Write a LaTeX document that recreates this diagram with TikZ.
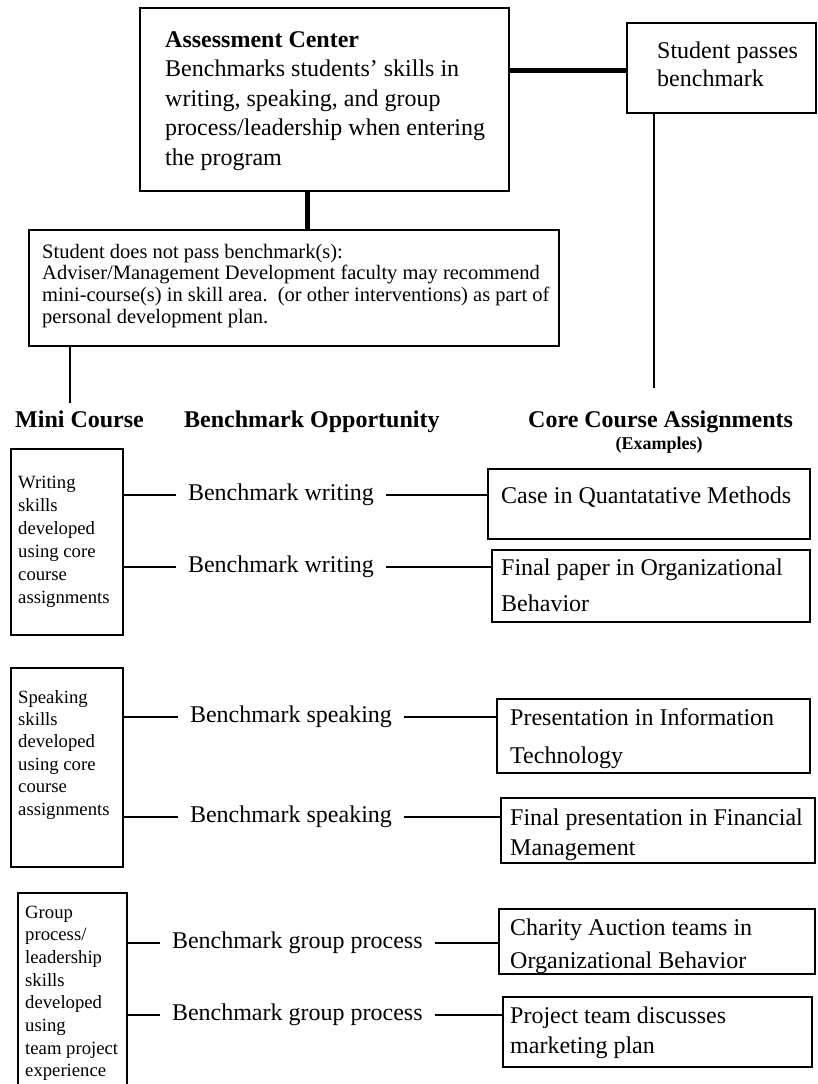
\documentclass[tikz,border=0pt]{standalone}
\usepackage{fontspec}
\setmainfont{Liberation Serif}
\newcommand\mlines[2]{\parbox[t]{700pt}{\raggedright\hyphenpenalty=10000\setlength{\baselineskip}{#1}#2}}
\begin{document}
\begin{tikzpicture}[x=1pt,y=-1pt,
  box/.style={draw, line width=1.3pt, inner sep=0pt, outer sep=0pt, anchor=north west},
  txt/.style={inner sep=0pt, anchor=base west},
  big/.style={font=\fontsize{24}{28}\selectfont},
  small/.style={font=\fontsize{18.7}{23}\selectfont},
  conn/.style={line width=1.8pt},
  heavy/.style={line width=5pt},
  bm/.style={inner sep=0pt, outer xsep=12pt, anchor=west, font=\fontsize{24}{28}\selectfont},
  head/.style={inner sep=0pt, anchor=base west, font=\bfseries\fontsize{24}{28}\selectfont}]
\useasboundingbox (0,0) rectangle (817,1084);
\fill[white] (0,0) rectangle (817,1084);

% --- top boxes
\node[box, minimum width=369pt, minimum height=183pt] (ac) at (140,8) {};
\node[txt, big] (actext) at (165,47) {\mlines{29.5pt}{\textbf{Assessment Center}\\Benchmarks students' skills in\\writing, speaking, and group\\process/leadership when entering\\the program}};

\node[box, minimum width=189pt, minimum height=90pt] (sp) at (627,23) {};
\node[txt, big] (sptext) at (657,58) {\mlines{28pt}{Student passes\\benchmark}};

\node[box, minimum width=530pt, minimum height=116pt] (np) at (29,230) {};
\node[txt, font=\fontsize{20.5}{21.7}\selectfont] (nptext) at (42,258) {\mlines{21.7pt}{Student does not pass benchmark(s):\\Adviser/Management Development faculty may recommend\\mini-course(s) in skill area.\ \ (or other interventions) as part of\\personal development plan.}};

\draw[heavy] (ac.east |- 0,70) -- (sp.west |- 0,70);
\draw[heavy] (ac.south -| 307,0) -- (np.north -| 307,0);

\coordinate (miniend) at (70,403);
\coordinate (passend) at (654,388);
\draw[line width=1.5pt] (np.south -| miniend) -- (miniend);
\draw[line width=1.5pt] (sp.south -| passend) -- (passend);

% --- headers
\node[head] (h1) at (15,427) {Mini Course};
\node[head] (h2) at (184,427) {Benchmark Opportunity};
\node[head] (h3) at (528,427) {Core Course Assignments};
\node[inner sep=0pt, anchor=base, font=\bfseries\fontsize{18}{20}\selectfont] (ex) at (659,449) {(Examples)};

% --- writing section
\node[box, minimum width=112pt, minimum height=186pt] (wb) at (11,449) {};
\node[txt, small] (wbt) at (18,488) {\mlines{23pt}{Writing\\skills\\developed\\using core\\course\\assignments}};
\node[bm] (bw1) at (176,495) {Benchmark writing};
\node[bm] (bw2) at (176,567) {Benchmark writing};
\node[box, minimum width=322pt, minimum height=70pt] (c1) at (488,469) {};
\node[txt, big] (c1t) at (501,503) {Case in Quantatative Methods};
\node[box, minimum width=318pt, minimum height=72pt] (c2) at (492,550) {};
\node[txt, big] (c2t) at (501,575) {\mlines{36pt}{Final paper in Organizational\\Behavior}};
\draw[conn] (wb.east |- bw1.west) -- (bw1.west);
\draw[conn] (bw1.east) -- (c1.west |- bw1.east);
\draw[conn] (wb.east |- bw2.west) -- (bw2.west);
\draw[conn] (bw2.east) -- (c2.west |- bw2.east);

% --- speaking section
\node[box, minimum width=112pt, minimum height=199pt] (sb) at (11,668) {};
\node[txt, small] (sbt) at (18,703) {\mlines{22.4pt}{Speaking\\skills\\developed\\using core\\course\\assignments}};
\node[bm] (bs1) at (178,717) {Benchmark speaking};
\node[bm] (bs2) at (178,817) {Benchmark speaking};
\node[box, minimum width=313pt, minimum height=74pt] (c3) at (497,699) {};
\node[txt, big] (c3t) at (510,725) {\mlines{38pt}{Presentation in Information\\Technology}};
\node[box, minimum width=314pt, minimum height=65pt] (c4) at (501,798) {};
\node[txt, big] (c4t) at (510,825) {\mlines{30pt}{Final presentation in Financial\\Management}};
\draw[conn] (sb.east |- bs1.west) -- (bs1.west);
\draw[conn] (bs1.east) -- (c3.west |- bs1.east);
\draw[conn] (sb.east |- bs2.west) -- (bs2.west);
\draw[conn] (bs2.east) -- (c4.west |- bs2.east);

% --- group section
\node[box, minimum width=109pt, minimum height=202pt] (gb) at (18,893) {};
\node[txt, small] (gbt) at (25,918) {\mlines{22.7pt}{Group\\process/\\leadership\\skills\\developed\\using\\team project\\experience}};
\node[bm] (bg1) at (160,943) {Benchmark group process};
\node[bm] (bg2) at (160,1015) {Benchmark group process};
\node[box, minimum width=316pt, minimum height=65pt] (c5) at (499,909) {};
\node[txt, big] (c5t) at (510,935) {\mlines{33pt}{Charity Auction teams in\\Organizational Behavior}};
\node[box, minimum width=309pt, minimum height=70pt] (c6) at (503,997) {};
\node[txt, big] (c6t) at (510,1023) {\mlines{30pt}{Project team discusses\\marketing plan}};
\draw[conn] (gb.east |- bg1.west) -- (bg1.west);
\draw[conn] (bg1.east) -- (c5.west |- bg1.east);
\draw[conn] (gb.east |- bg2.west) -- (bg2.west);
\draw[conn] (bg2.east) -- (c6.west |- bg2.east);
\end{tikzpicture}
\end{document}
